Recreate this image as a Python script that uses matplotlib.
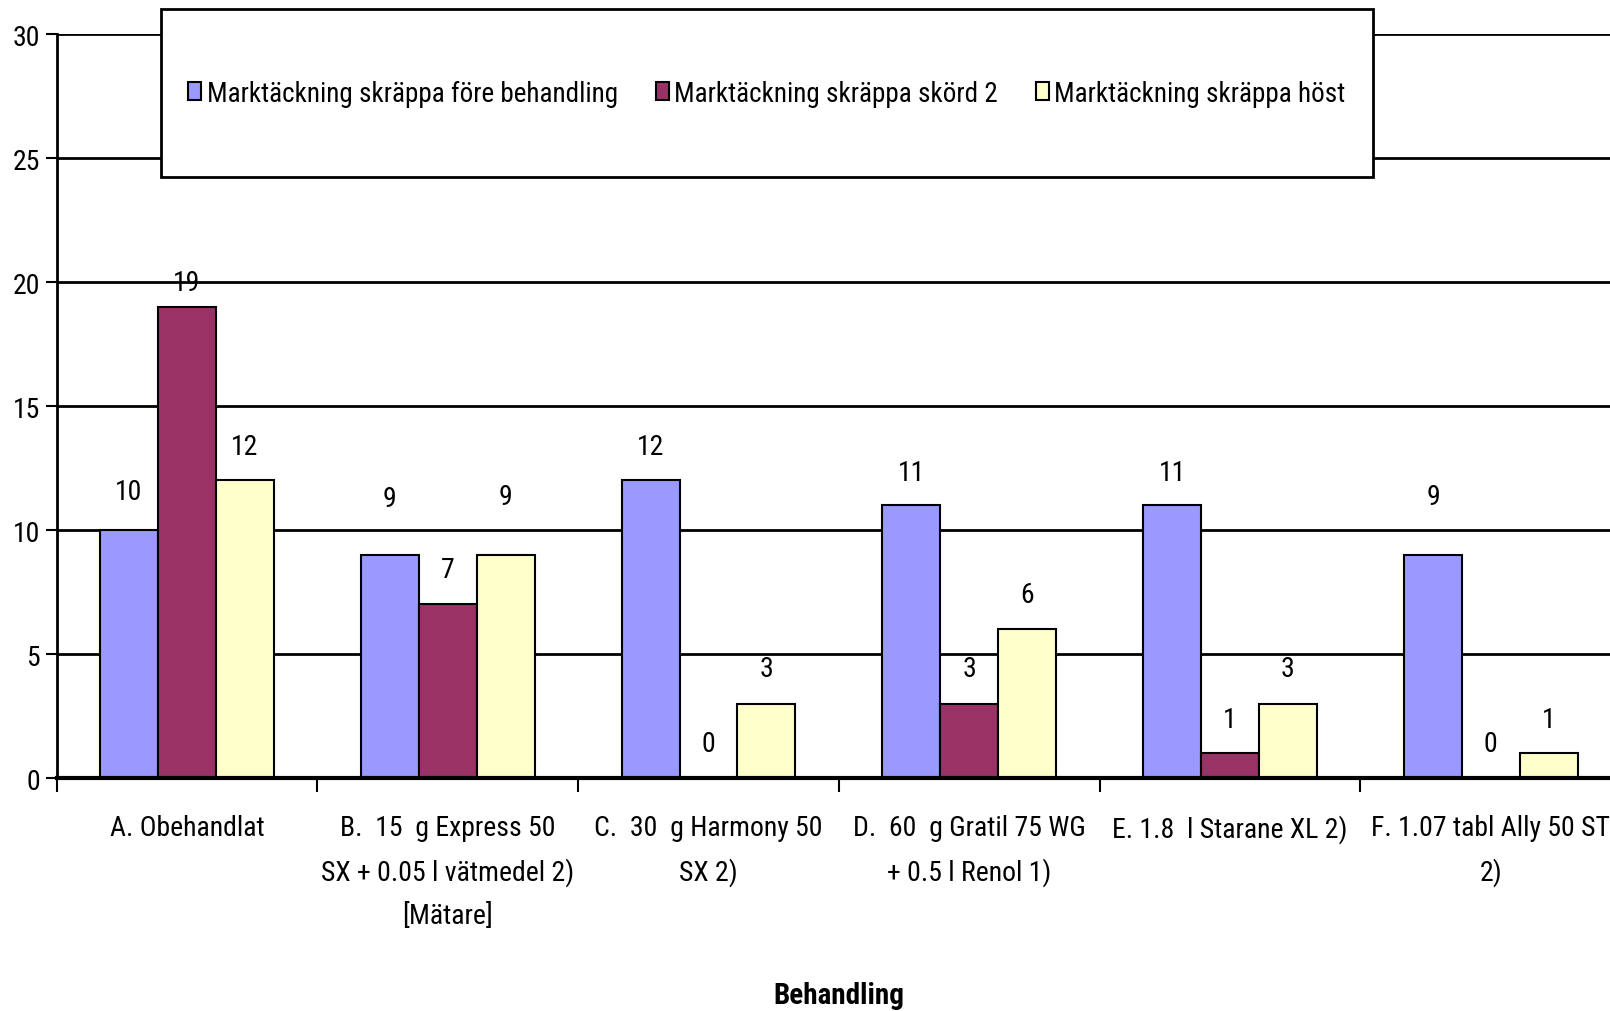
import matplotlib
matplotlib.use('Agg')
import numpy as np
import matplotlib.pyplot as plt
from matplotlib.patches import Rectangle

plt.rcParams['font.family'] = ['Roboto Condensed', 'Liberation Sans Narrow', 'DejaVu Sans']
plt.rcParams['font.stretch'] = 'condensed'

# Data
categories = [
    'A. Obehandlat',
    'B.  15  g Express 50\nSX + 0.05 l vätmedel 2)\n[Mätare]',
    'C.  30  g Harmony 50\nSX 2)',
    'D.  60  g Gratil 75 WG\n+ 0.5 l Renol 1)',
    'E. 1.8  l Starane XL 2)',
    'F. 1.07 tabl Ally 50 ST\n2)',
]
series_names = [
    'Marktäckning skräppa före behandling',
    'Marktäckning skräppa skörd 2',
    'Marktäckning skräppa höst',
]
fore = [10, 9, 12, 11, 11, 9]
skord2 = [19, 7, 0, 3, 1, 0]
host = [12, 9, 3, 6, 3, 1]

# how far (px) each value label sits above its bar top, as in the original
lift_fore = [39, 56, 34, 33, 33, 58]
lift_skord2 = [24, 35, 35, 35, 34, 35]
lift_host = [34, 58, 35, 35, 35, 34]

colors = ['#9999FF', '#993366', '#FFFFCC']
FS = 20

fig = plt.figure(figsize=(16.1, 10.12), dpi=100)
ax = fig.add_axes([0.0351, 0.2302, 0.9719, 0.7352])

x = np.arange(len(categories))
w = 0.222
all_vals = [fore, skord2, host]
all_lifts = [lift_fore, lift_skord2, lift_host]
for i, (vals, lifts) in enumerate(zip(all_vals, all_lifts)):
    pos = x + (i - 1) * w
    ax.bar(pos, vals, w, color=colors[i], edgecolor='black', linewidth=1.5,
           label=series_names[i], zorder=3)
    for px, v, l in zip(pos, vals, lifts):
        ax.annotate(str(v), (px, v), xytext=(0, l * 0.72), textcoords='offset points',
                    ha='center', va='center', fontsize=FS, zorder=4)

ax.set_xlim(-0.5, len(categories) - 0.5)
ax.set_ylim(0, 30)
ax.set_yticks(range(0, 31, 5))
ax.yaxis.grid(True, color='black', linewidth=2, zorder=0)
ax.set_axisbelow(True)

ax.set_xticks(np.arange(len(categories) + 1) - 0.5, minor=False)
ax.set_xticklabels([])
ax.set_xticks(x, minor=True)
ax.set_xticklabels(categories, minor=True, fontsize=FS, linespacing=1.74, va='top')
ax.tick_params(axis='x', which='minor', length=0, pad=26)
ax.tick_params(axis='x', which='major', length=10, width=1.5, direction='out')
ax.tick_params(axis='y', length=8, width=1.5, labelsize=FS, pad=4)

for s in ['top', 'right']:
    ax.spines[s].set_visible(False)
ax.spines['left'].set_linewidth(2)
ax.spines['bottom'].set_linewidth(3)
ax.spines['bottom'].set_zorder(5)

ax.set_xlabel('Behandling', fontsize=21, fontweight='bold', va='center')
ax.xaxis.set_label_coords(0.5, -(996 - 779) / 744)

# legend box
fig.patches.append(Rectangle((161 / 1610, 1 - 178 / 1012), (1373 - 161) / 1610, 168 / 1012,
                             transform=fig.transFigure, facecolor='white',
                             edgecolor='black', linewidth=2, zorder=10))
leg = fig.legend(loc='center', bbox_to_anchor=((161 + 1373) / 2 / 1610, 1 - 94 / 1012),
                 ncol=3, frameon=False, fontsize=19.5, handlelength=0.48, handleheight=0.66,
                 handletextpad=0.2, columnspacing=1.4)
leg.set_zorder(11)
for h in leg.legend_handles:
    h.set_linewidth(1.5)

fig.savefig('out.png', dpi=100)
